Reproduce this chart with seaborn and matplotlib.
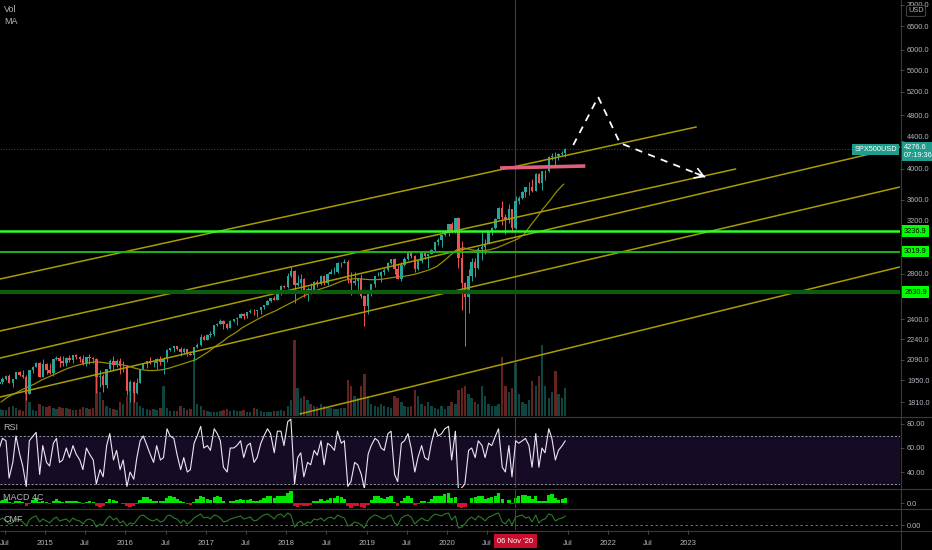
import numpy as np
import pandas as pd
import seaborn as sns
import matplotlib
matplotlib.use("Agg")
import matplotlib.pyplot as plt
import matplotlib.transforms as mtransforms
from matplotlib.lines import Line2D
from matplotlib.ticker import NullLocator

## Data: semi-monthly bars of SPX500USD, Jun 2014 - Jun 2021
bar_dates = pd.date_range("2014-06-01", periods=170, freq="SMS") + pd.Timedelta(days=7)
first_open = 1924

closes = [1937, 1960, 1981, 1931, 1955, 2003, 1985, 1972, 1862, 2018, 2040, 2068, 1972, 2059,
          2019, 1995, 2097, 2105, 2081, 2068, 2106, 2086, 2122, 2107, 2094, 2063, 2108, 2104, 2092, 1972, 1978, 1920, 2023, 2079, 2050, 2080, 2043, 2044,
          1880, 1940, 1865, 1932, 2027, 2060, 2081, 2065, 2066, 2097, 2071, 2099, 2162, 2174, 2190, 2171, 2147, 2168, 2133, 2126, 2180, 2199, 2262, 2239,
          2275, 2279, 2349, 2364, 2385, 2363, 2329, 2384, 2400, 2412, 2440, 2423, 2459, 2470, 2464, 2472, 2500, 2519, 2553, 2575, 2564, 2647, 2690, 2674,
          2776, 2824, 2698, 2714, 2750, 2641, 2657, 2648, 2722, 2705, 2780, 2718, 2798, 2816, 2818, 2902, 2904, 2914, 2750, 2711, 2730, 2760, 2600, 2507,
          2610, 2704, 2775, 2784, 2822, 2834, 2905, 2946, 2850, 2752, 2886, 2942, 3014, 2980, 2847, 2926, 3007, 2977, 2995, 3038, 3120, 3141, 3191, 3231,
          3317, 3226, 3380, 2954, 2711, 2585, 2783, 2912, 2852, 3044, 3066, 3100, 3226, 3271, 3373, 3500, 3401, 3363, 3488, 3270, 3585, 3622, 3695, 3756,
          3768, 3714, 3934, 3811, 3969, 3973, 4170, 4181, 4174, 4204, 4225, 4277]

highs = [1955, 1968, 1985, 1991, 1958, 2005, 2011, 2019, 1985, 2019, 2046, 2075, 2076, 2094,
         2064, 2064, 2097, 2119, 2117, 2114, 2111, 2126, 2123, 2134, 2115, 2127, 2110, 2132, 2113, 2103, 2021, 1993, 2024, 2094, 2116, 2094, 2104, 2081,
         2050, 1950, 1947, 1962, 2027, 2062, 2083, 2111, 2084, 2103, 2120, 2113, 2169, 2178, 2193, 2193, 2186, 2176, 2170, 2151, 2185, 2214, 2278, 2273,
         2282, 2301, 2351, 2371, 2401, 2390, 2366, 2392, 2405, 2418, 2454, 2454, 2463, 2484, 2480, 2475, 2500, 2519, 2557, 2582, 2597, 2657, 2694, 2695,
         2807, 2873, 2835, 2790, 2801, 2762, 2680, 2717, 2732, 2742, 2791, 2785, 2805, 2848, 2863, 2916, 2916, 2940, 2939, 2817, 2815, 2761, 2800, 2601,
         2612, 2708, 2776, 2813, 2830, 2860, 2910, 2949, 2954, 2892, 2911, 2964, 3017, 3028, 2990, 2939, 3021, 3016, 3000, 3050, 3121, 3158, 3197, 3247,
         3317, 3337, 3385, 3394, 3136, 2720, 2845, 2955, 2954, 3068, 3233, 3155, 3240, 3280, 3390, 3510, 3588, 3428, 3550, 3496, 3646, 3645, 3712, 3760,
         3826, 3870, 3950, 3944, 3977, 3981, 4175, 4218, 4238, 4218, 4256, 4300]

lows = [1920, 1925, 1952, 1930, 1905, 1955, 1978, 1964, 1821, 1860, 2001, 2040, 1972, 1970,
        1992, 1988, 1981, 2090, 2039, 2046, 2045, 2077, 2067, 2099, 2072, 2056, 2044, 2063, 2068, 1867, 1903, 1871, 1900, 2016, 2019, 2040, 1993, 2005,
        1857, 1812, 1810, 1860, 1930, 2022, 2033, 2060, 2039, 2025, 2050, 1992, 2074, 2155, 2147, 2159, 2120, 2139, 2115, 2122, 2084, 2176, 2190, 2234,
        2233, 2258, 2267, 2345, 2361, 2322, 2322, 2328, 2380, 2353, 2410, 2405, 2407, 2453, 2437, 2417, 2446, 2488, 2515, 2544, 2557, 2557, 2605, 2672,
        2670, 2770, 2532, 2683, 2647, 2585, 2553, 2612, 2625, 2676, 2693, 2691, 2699, 2795, 2802, 2812, 2864, 2903, 2710, 2603, 2700, 2631, 2583, 2346,
        2443, 2600, 2681, 2775, 2722, 2785, 2830, 2900, 2800, 2750, 2729, 2880, 2935, 2958, 2822, 2834, 2906, 2946, 2856, 2993, 3030, 3091, 3070, 3185,
        3181, 3214, 3214, 2855, 2478, 2192, 2447, 2728, 2766, 2850, 2936, 2999, 3095, 3200, 3260, 3371, 3310, 3209, 3323, 3233, 3265, 3555, 3615, 3636,
        3662, 3694, 3710, 3811, 3723, 3853, 3955, 4118, 4056, 4120, 4190, 4164]

volume = [7, 6, 6, 9, 10, 8, 6, 5, 28, 14, 6, 5, 12, 10,
          9, 10, 8, 7, 9, 8, 8, 7, 6, 6, 7, 9, 8, 7, 8, 52, 24, 16, 10, 8, 7, 6, 14, 12,
          20, 30, 24, 14, 10, 8, 7, 6, 7, 6, 8, 30, 8, 5, 5, 5, 10, 8, 6, 7, 58, 12, 10, 6,
          5, 4, 4, 4, 5, 6, 7, 5, 6, 5, 5, 6, 4, 4, 8, 7, 5, 4, 4, 4, 5, 5, 6, 5,
          10, 16, 76, 28, 18, 20, 16, 12, 10, 9, 12, 10, 8, 8, 7, 7, 8, 8, 36, 30, 20, 18, 30, 42,
          20, 12, 10, 9, 12, 10, 9, 8, 20, 18, 14, 10, 9, 10, 26, 20, 12, 10, 14, 10, 8, 7, 10, 7,
          10, 14, 12, 26, 28, 30, 22, 18, 14, 12, 30, 20, 12, 10, 10, 12, 59, 30, 24, 28, 53, 22, 14, 12,
          16, 35, 30, 40, 71, 30, 18, 24, 45, 22, 18, 28]

rsi = [60, 68, 66, 35, 48, 70, 55, 45, 28, 66, 70, 73, 38, 62,
       48, 45, 64, 68, 48, 50, 60, 52, 62, 55, 50, 42, 60, 55, 50, 30, 42, 36, 62, 72, 50, 58, 42, 50,
       28, 40, 34, 52, 66, 70, 62, 55, 48, 62, 50, 52, 76, 70, 68, 55, 42, 52, 40, 42, 64, 70, 78, 60,
       62, 58, 76, 72, 66, 44, 40, 60, 60, 62, 66, 52, 62, 64, 48, 52, 64, 70, 76, 72, 56, 74, 74, 62,
       82, 84, 30, 52, 56, 36, 48, 46, 58, 54, 66, 46, 64, 62, 58, 74, 64, 66, 28, 32, 48, 46, 38, 26,
       55, 62, 68, 66, 60, 58, 72, 74, 38, 32, 64, 66, 72, 60, 40, 52, 62, 52, 50, 64, 76, 70, 72, 76,
       78, 50, 74, 24, 27, 30, 58, 60, 52, 66, 62, 52, 64, 62, 70, 76, 44, 40, 62, 36, 66, 64, 66, 68,
       62, 44, 72, 44, 60, 56, 76, 68, 50, 58, 62, 66]

macd_hist = [2, 4, 5, 1, -1, 3, 3, 1, -4, -1, 4, 6, 1, 2,
             1, -1, 3, 5, 3, 1, 2, 2, 3, 2, 1, -1, 1, 2, 1, -4, -5, -4, 1, 5, 4, 3, 0, -1,
             -4, -5, -4, -1, 4, 7, 7, 5, 3, 3, 2, 2, 6, 8, 7, 5, 2, 1, -1, -2, 1, 5, 8, 7,
             5, 4, 7, 8, 7, 3, 0, 2, 3, 4, 5, 4, 4, 5, 3, 2, 4, 6, 8, 8, 6, 8, 9, 8,
             12, 14, -3, -5, -2, -4, -3, -2, 2, 3, 5, 3, 4, 6, 6, 8, 7, 5, -4, -6, -4, -3, -5, -6,
             -2, 4, 8, 8, 6, 5, 7, 8, 1, -3, 2, 6, 8, 6, -2, -1, 3, 3, 1, 5, 9, 9, 9, 11,
             12, 6, 7, -5, -6, -5, 0, 6, 7, 8, 9, 5, 6, 7, 9, 12, 5, 0, 4, -1, 6, 9, 10, 10,
             9, 5, 8, 3, 2, 3, 10, 11, 6, 4, 5, 6]

cmf = [.10, .14, .08, .02, .05, .12, .10, .06, -.02, .10, .16, .18, .06, .12,
       .08, .04, .12, .16, .08, .10, .12, .06, .14, .10, .08, .02, .10, .12, .08, -.04, .02, .00, .12, .18, .10, .14, .04, .08,
       -.02, .04, .02, .10, .18, .20, .14, .10, .08, .12, .06, .08, .18, .20, .14, .12, .04, .10, .02, .06, .14, .18, .22, .14,
       .16, .12, .20, .18, .14, .06, .08, .12, .14, .16, .18, .12, .14, .16, .08, .10, .16, .20, .22, .18, .12, .20, .22, .16,
       .24, .20, -.04, .04, .08, .00, .06, .04, .12, .10, .14, .08, .14, .16, .12, .20, .16, .14, -.02, .00, .06, .04, .00, -.06,
       .10, .16, .20, .18, .14, .12, .18, .20, .04, .00, .14, .18, .20, .16, .02, .08, .14, .10, .08, .16, .22, .20, .18, .22,
       .24, .10, .18, -.06, -.04, .02, .12, .16, .10, .18, .14, .08, .16, .18, .22, .24, .06, .02, .12, .00, .16, .18, .20, .14,
       .16, .06, .20, .04, .10, .12, .22, .20, .08, .12, .14, .18]

ma_dates = pd.date_range("2014-06-01", periods=85, freq="MS") + pd.Timedelta(days=14)
ma_values = [1810, 1840, 1862, 1885, 1905, 1925, 1950,
             1970, 1990, 2010, 2030, 2045, 2058, 2068, 2075, 2072, 2065, 2060, 2055,
             2045, 2030, 2020, 2015, 2015, 2020, 2030, 2045, 2060, 2075, 2090, 2120,
             2150, 2190, 2220, 2260, 2290, 2330, 2360, 2390, 2420, 2445, 2470, 2500,
             2530, 2560, 2590, 2620, 2645, 2665, 2685, 2710, 2735, 2750, 2755, 2750,
             2745, 2745, 2750, 2760, 2770, 2775, 2785, 2800, 2820, 2840, 2870, 2920,
             2980, 3040, 3060, 3040, 3030, 3030, 3040, 3060, 3090, 3120, 3150, 3200,
             3300, 3400, 3500, 3600, 3710, 3800]

# drawings on the chart
channel_start_year = [2014.44, 2014.44, 2014.44, 2014.44, 2018.17]
channel_start_price = [2751, 2305, 2102, 1841, 1738]
channel_end_year = [2023.10, 2023.59, 2025.63, 2025.63, 2025.63]
channel_end_price = [4615, 4000, 4311, 3762, 2866]

levels = [3236.9, 3019.9, 2630.9]
support_year = [2020.66, 2021.72]
support_price = [4014, 4041]
path_year = [2021.57, 2021.88, 2022.15, 2023.21]
path_price = [4340, 5111, 4370, 3893]
last_price = 4276.6
cursor_year = 2020.85

price_ticks = [7000, 6500, 6000, 5600, 5200, 4800, 4400, 4000, 3600, 3200, 2800, 2400, 2240, 2090, 1950, 1810]
crowded_ticks = [4400, 3200]   # labels partly hidden by the price boxes
time_ticks = [2014.5, 2015, 2015.5, 2016, 2016.5, 2017, 2017.5, 2018, 2018.5, 2019, 2019.5, 2020, 2020.5,
              2021.5, 2022, 2022.5, 2023]
time_labels = ['Jul', '2015', 'Jul', '2016', 'Jul', '2017', 'Jul', '2018', 'Jul', '2019', 'Jul', '2020', 'Jul',
               'Jul', '2022', 'Jul', '2023']

## Style
BG = '#000000'
TXT = '#b2b5be'
UP, DOWN = '#26a69a', '#ef5350'
YEL = '#a99c00'
sns.set_theme(style="dark", rc={"axes.facecolor": BG, "figure.facecolor": BG, "axes.grid": False})
plt.rcParams['font.family'] = ['Liberation Sans', 'DejaVu Sans']


def year_frac(d):
    return np.asarray(d.year + (d.dayofyear - 1) / 365.25, dtype=float)


t = year_frac(bar_dates)
t_ma = year_frac(ma_dates)
c = np.array(closes, dtype=float)
o = np.concatenate([[first_open], c[:-1]])
cols = [UP if cc >= oo else DOWN for cc, oo in zip(c, o)]

W, H = 932, 550
fig = plt.figure(figsize=(W / 100, H / 100), dpi=100)


def box(x0, y0, x1, y1):
    return [x0 / W, 1 - y1 / H, (x1 - x0) / W, (y1 - y0) / H]


ax = fig.add_axes(box(0, 0, 900, 416))
axv = ax.twinx()
ax_rsi = fig.add_axes(box(0, 417, 900, 488), sharex=ax)
ax_macd = fig.add_axes(box(0, 489, 900, 508), sharex=ax)
ax_cmf = fig.add_axes(box(0, 509, 900, 530), sharex=ax)

## volume (behind price)
axv.bar(t, volume, width=0.03, color=cols, alpha=0.42, linewidth=0)
axv.set_ylim(0, 416)
axv.set_yticks([])
axv.tick_params(right=False, labelright=False)
ax.set_zorder(axv.get_zorder() + 1)
ax.patch.set_visible(False)

## price
ax.set_yscale('log')
ax.vlines(t, lows, highs, colors=cols, linewidth=0.7, zorder=3)
ax.bar(t, np.maximum(np.abs(c - o), 2), bottom=np.minimum(o, c), width=0.03, color=cols, linewidth=0, zorder=3)
sns.lineplot(x=t_ma, y=ma_values, ax=ax, color='#978c00', linewidth=0.9, zorder=2)

for x0, p0, x1, p1 in zip(channel_start_year, channel_start_price, channel_end_year, channel_end_price):
    ax.plot([x0, x1], [p0, p1], color=YEL, linewidth=1.1, zorder=4)

ax.axhline(levels[0], color='#2bff2b', linewidth=1.8, zorder=4)
ax.axhline(levels[1], color='#18b818', linewidth=1.4, zorder=4)
ax.axhline(levels[2], color='#0b5c0b', linewidth=3.0, zorder=4)
ax.axhline(last_price, color='#1f4f47', linewidth=0.8, linestyle=(0, (1, 1.5)), zorder=1)
ax.plot(support_year, support_price, color='#e0607c', linewidth=2.6, solid_capstyle='butt', zorder=5)

ax.plot(path_year, path_price, color='white', linewidth=1.3, linestyle=(0, (4, 3.5)), zorder=6)
ax.annotate('', xy=(path_year[-1], path_price[-1]), xytext=(-7, 2.8), textcoords='offset points',
            arrowprops=dict(arrowstyle='->,head_length=0.5,head_width=0.3', color='white', lw=1.2,
                            shrinkA=0, shrinkB=0), zorder=6)

ax.set_xlim(2014.440, 2025.634)
ax.set_ylim(1726, 7109)
ax.yaxis.tick_right()
ax.set_yticks(price_ticks)
ax.set_yticklabels(['' if v in crowded_ticks else f"{v:.1f}" for v in price_ticks])
ax.yaxis.set_minor_locator(NullLocator())
ax.set_xlabel('')
ax.set_ylabel('')

trans = mtransforms.blended_transform_factory(ax.transAxes, ax.transData)
# the two crowded tick labels sit just above the boxes, as in the reference
ax.annotate("4400.0", xy=(1.0, 4400), xycoords=trans, xytext=(5, 2.5), textcoords='offset points',
            ha='left', va='center', fontsize=5.3, color=TXT, annotation_clip=False)
ax.annotate("3200.0", xy=(1.0, 3200), xycoords=trans, xytext=(5, 9.5), textcoords='offset points',
            ha='left', va='center', fontsize=5.3, color=TXT, annotation_clip=False)

for lvl in levels:
    ax.annotate(f"{lvl:.1f}", xy=(1.0, lvl), xycoords=trans, xytext=(3, 0), textcoords='offset points',
                ha='left', va='center', fontsize=5.3, color='black', annotation_clip=False,
                bbox=dict(boxstyle='square,pad=0.3', fc='#00ff00', ec='none'), zorder=10)
ax.annotate(f"{last_price:.1f}\n07:19:36", xy=(1.0, last_price), xycoords=trans, xytext=(3, 3.8),
            textcoords='offset points', ha='left', va='top', fontsize=5.3, color='white', linespacing=1.2,
            annotation_clip=False, bbox=dict(boxstyle='square,pad=0.25', fc='#1f9e8e', ec='none'), zorder=10)
ax.annotate("SPX500USD", xy=(1.0, last_price), xycoords=trans, xytext=(-2, 0), textcoords='offset points',
            ha='right', va='center', fontsize=5.3, color='white', annotation_clip=False,
            bbox=dict(boxstyle='square,pad=0.3', fc='#1f9e8e', ec='none'), zorder=10)

## RSI
ax_rsi.axhspan(30, 70, color='#160b24', zorder=0)
ax_rsi.axhline(70, color='#9a9aa6', linewidth=0.7, linestyle=(0, (2, 2)))
ax_rsi.axhline(30, color='#9a9aa6', linewidth=0.7, linestyle=(0, (2, 2)))
sns.lineplot(x=t, y=rsi, ax=ax_rsi, color='#ece6f4', linewidth=0.8)
ax_rsi.set_ylim(26.7, 85.8)
ax_rsi.yaxis.tick_right()
ax_rsi.set_yticks([40, 60, 80])
ax_rsi.set_yticklabels(['40.00', '60.00', '80.00'])

## MACD 4C
macd_cols = ['#00e600' if v >= 0 else '#d8102c' for v in macd_hist]
ax_macd.bar(t, macd_hist, width=0.042, color=macd_cols, linewidth=0)
ax_macd.set_ylim(-6, 16.8)
ax_macd.yaxis.tick_right()
ax_macd.set_yticks([0])
ax_macd.set_yticklabels(['0.0'])

## CMF
ax_cmf.axhline(0, color='#787b86', linewidth=0.6, linestyle=(0, (3, 3)))
sns.lineplot(x=t, y=cmf, ax=ax_cmf, color='#2b7a2b', linewidth=0.8)
ax_cmf.set_ylim(-0.1, 0.32)
ax_cmf.yaxis.tick_right()
ax_cmf.set_yticks([0])
ax_cmf.set_yticklabels(['0.00'])

for a in [ax, ax_rsi, ax_macd, ax_cmf]:
    a.axvline(cursor_year, color='#6e2a34', linewidth=0.8, zorder=1)
    for s in a.spines.values():
        s.set_visible(False)
    a.tick_params(axis='y', colors='#555555', labelcolor=TXT, labelsize=5.3, length=3, width=0.6, pad=2)
    a.tick_params(axis='x', bottom=False, labelbottom=False)
    a.set_xlabel('')
    a.set_ylabel('')
for s in axv.spines.values():
    s.set_visible(False)

ax_cmf.set_xticks(time_ticks)
ax_cmf.set_xticklabels(time_labels)
ax_cmf.tick_params(axis='x', bottom=True, labelbottom=True, colors='#555555', labelcolor=TXT,
                   labelsize=5.5, length=3, width=0.6, pad=4)
ax_cmf.annotate("06 Nov '20", xy=(cursor_year, 0), xycoords=ax_cmf.get_xaxis_transform(),
                xytext=(0, -8), textcoords='offset points', ha='center', va='center', fontsize=5.5,
                color='white', annotation_clip=False,
                bbox=dict(boxstyle='square,pad=0.5', fc='#c8102e', ec='none'), zorder=10)

## panel separators and labels
for y in [416.5, 488.5, 508.5, 530.5]:
    fig.add_artist(Line2D([0, 1], [1 - y / H, 1 - y / H], transform=fig.transFigure, color='#3a3a3a', linewidth=0.8))
fig.add_artist(Line2D([900.5 / W, 900.5 / W], [0, 1], transform=fig.transFigure, color='#3a3a3a', linewidth=0.8))

fig.text(4 / W, 1 - 10 / H, 'Vol', fontsize=6.5, color=TXT, va='center')
fig.text(4 / W, 1 - 22 / H, 'MA', fontsize=6.5, color=TXT, va='center')
fig.text(3 / W, 1 - 428 / H, 'RSI', fontsize=6.5, color=TXT, va='center')
fig.text(3 / W, 1 - 498 / H, 'MACD 4C', fontsize=6.5, color=TXT, va='center')
fig.text(3 / W, 1 - 519 / H, 'CMF', fontsize=6.5, color=TXT, va='center')
fig.text(916 / W, 1 - 11 / H, 'USD', fontsize=5.3, color=TXT, ha='center', va='center',
         bbox=dict(boxstyle='round,pad=0.25', fc=BG, ec='#555555', lw=0.6))

fig.savefig('out.png', dpi=100, facecolor=BG)
